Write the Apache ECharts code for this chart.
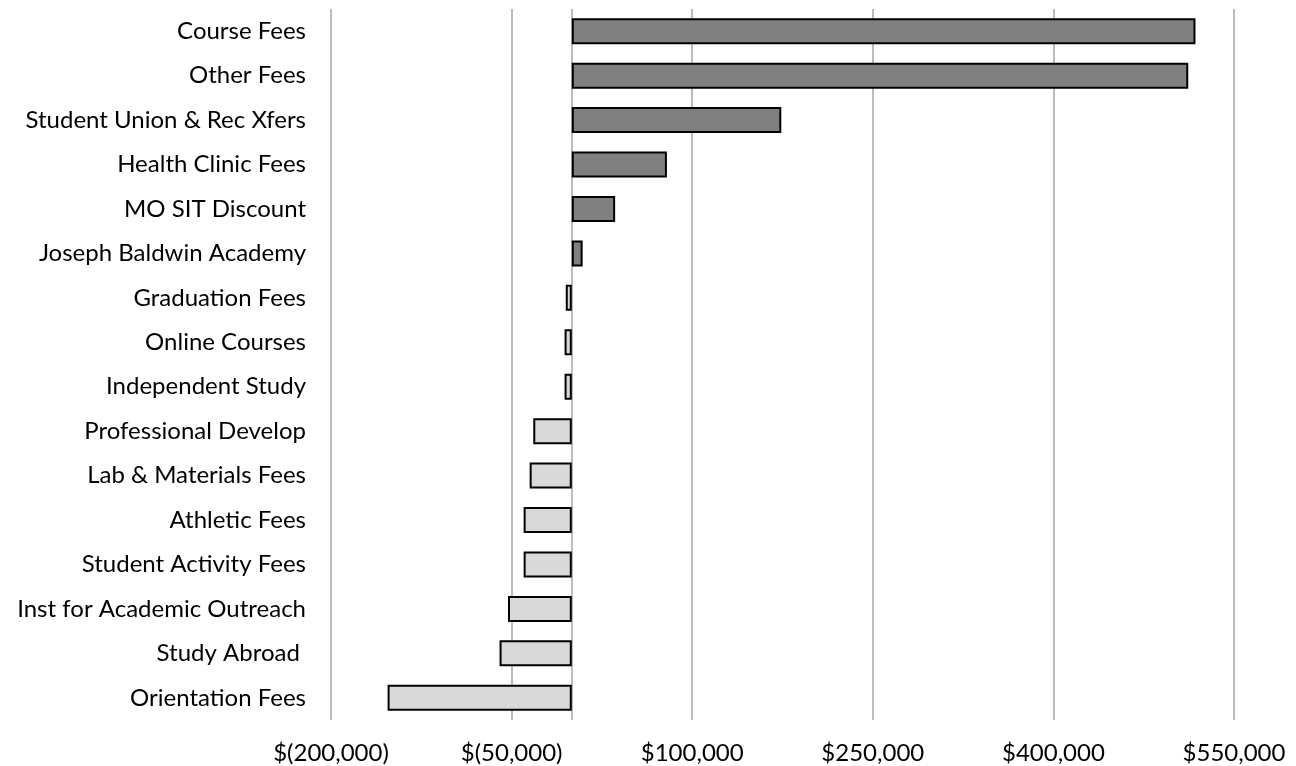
<!DOCTYPE html>
<html>
<head>
<meta charset="utf-8">
<script src="https://cdn.jsdelivr.net/npm/echarts@6/dist/echarts.min.js"></script>
<style>
  html, body { margin: 0; padding: 0; background: #fff; }
  #chart { width: 1296px; height: 766px; }
</style>
</head>
<body>
<div id="chart"></div>
<script>
// categories top to bottom
var categories = [
    "Course Fees",
    "Other Fees",
    "Student Union & Rec Xfers",
    "Health Clinic Fees",
    "MO SIT Discount",
    "Joseph Baldwin Academy",
    "Graduation Fees",
    "Online Courses",
    "Independent Study",
    "Professional Develop",
    "Lab & Materials Fees",
    "Athletic Fees",
    "Student Activity Fees",
    "Inst for Academic Outreach",
    "Study Abroad ",
    "Orientation Fees",
];

// net change in dollars
var values = [
    518000, 512000, 174000, 79000, 36000, 9000,
    -5000, -6000, -6000, -32000, -35000, -40000,
    -40000, -53000, -60000, -153000,
];

var axisMin = -200000;
var axisMax = 550000;
var axisStep = 150000;

var fontName = "Lato";
var gridColor = "#a6a6a6";

function money(v) {
    var s = Math.abs(v).toLocaleString("en-US");
    return v < 0 ? "$(" + s + ")" : "$" + s;
}

var chart = echarts.init(document.getElementById("chart"));

chart.setOption({
    animation: false,
    grid: {
        left: 331,
        right: 62,
        top: 9,
        bottom: 46,
        containLabel: false,
    },
    xAxis: {
        type: "value",
        min: axisMin,
        max: axisMax,
        interval: axisStep,
        axisLine: { show: false },
        axisTick: { show: false },
        splitLine: { show: true, lineStyle: { color: gridColor, width: 1.5 } },
        axisLabel: {
            formatter: money,
            color: "#000",
            fontFamily: fontName,
            fontSize: 24,
            margin: 21,
        },
    },
    yAxis: {
        type: "category",
        data: categories,
        inverse: true,
        axisLine: { show: false, onZero: false },
        axisTick: { show: false },
        axisLabel: {
            color: "#000",
            fontFamily: fontName,
            fontSize: 24,
            margin: 25,
        },
    },
    series: [
        {
            type: "bar",
            data: values,
            barWidth: 26,
            itemStyle: {
                // dark bars for increases, light for decreases
                color: function (p) {
                    return p.value >= 0 ? "#808080" : "#d9d9d9";
                },
                borderColor: "#000",
                borderWidth: 2,
            },
            markLine: {
                silent: true,
                symbol: "none",
                label: { show: false },
                lineStyle: { color: gridColor, width: 1.5, type: "solid" },
                data: [{ xAxis: 0 }],
                z: 1,
            },
        },
    ],
});
</script>
</body>
</html>
